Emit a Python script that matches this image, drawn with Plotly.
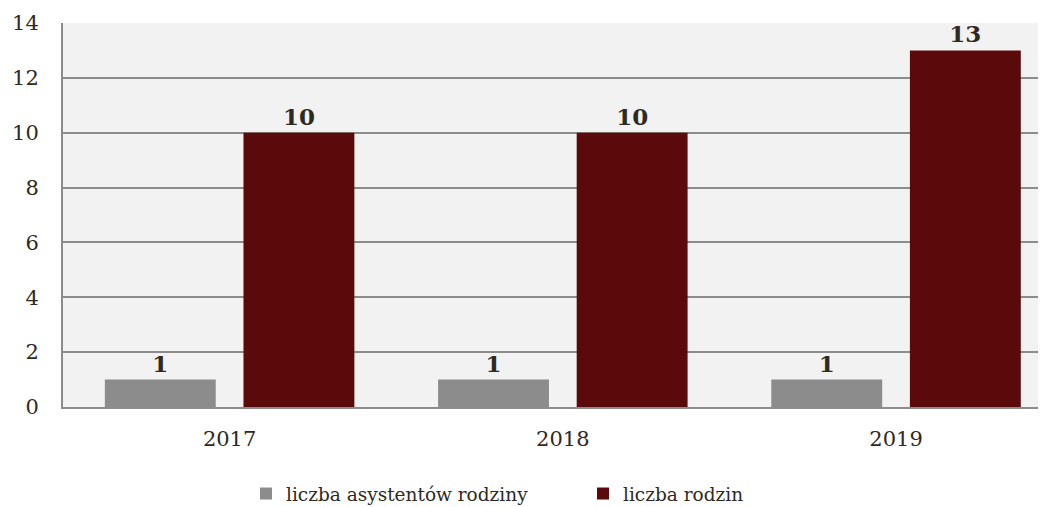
import plotly.graph_objects as go

years = ["2017", "2018", "2019"]
asystenci = [1, 1, 1]
rodziny = [10, 10, 13]
series_names = ["liczba asystentów rodziny", "liczba rodzin"]
colors = ["#8c8c8c", "#5b0a0c"]

FONT = "DejaVu Serif"
TXT = "#2e2a22"

fig = go.Figure()
for name, vals, col in zip(series_names, [asystenci, rodziny], colors):
    fig.add_trace(go.Bar(
        x=years, y=vals, name=name, marker=dict(color=col, line=dict(width=0)),
        text=vals, textposition="outside", cliponaxis=False,
        textfont=dict(family=FONT, size=23, color=TXT),
        texttemplate="<b>%{text}</b>",
    ))

OFF = 8
W, H = 1046 - OFF, 507 - OFF
ml, mr, mt, mb = 63 - OFF, 0, 23 - OFF, 100
fig.update_layout(
    width=W, height=H,
    margin=dict(l=ml, r=mr, t=mt, b=mb),
    paper_bgcolor="white", plot_bgcolor="#f2f2f2",
    barmode="group", bargap=0.168, bargroupgap=0.2,
    font=dict(family=FONT, size=21, color=TXT),
    showlegend=True,
    legend=dict(orientation="h", x=(246 - 63) / (W - ml - mr), xanchor="left",
                yref="container", y=1 - (494 - OFF) / H, yanchor="middle",
                entrywidth=292, entrywidthmode="pixels",
                font=dict(family=FONT, size=18.5, color=TXT), itemwidth=30,
                bgcolor="rgba(0,0,0,0)"),
)
fig.update_xaxes(type="category", range=[-0.5, 2.45], showline=True, linecolor="#8c8c8c",
                 linewidth=2, ticks="", showgrid=False,
                 tickfont=dict(family=FONT, size=21, color=TXT), ticklabelstandoff=12)
fig.update_yaxes(range=[0, 14], dtick=2, showline=True, linecolor="#8c8c8c", linewidth=2,
                 gridcolor="#8c8c8c", gridwidth=2, ticks="", zeroline=False,
                 tickfont=dict(family=FONT, size=21, color=TXT), ticklabelstandoff=18)

fig.write_html("out.html")
